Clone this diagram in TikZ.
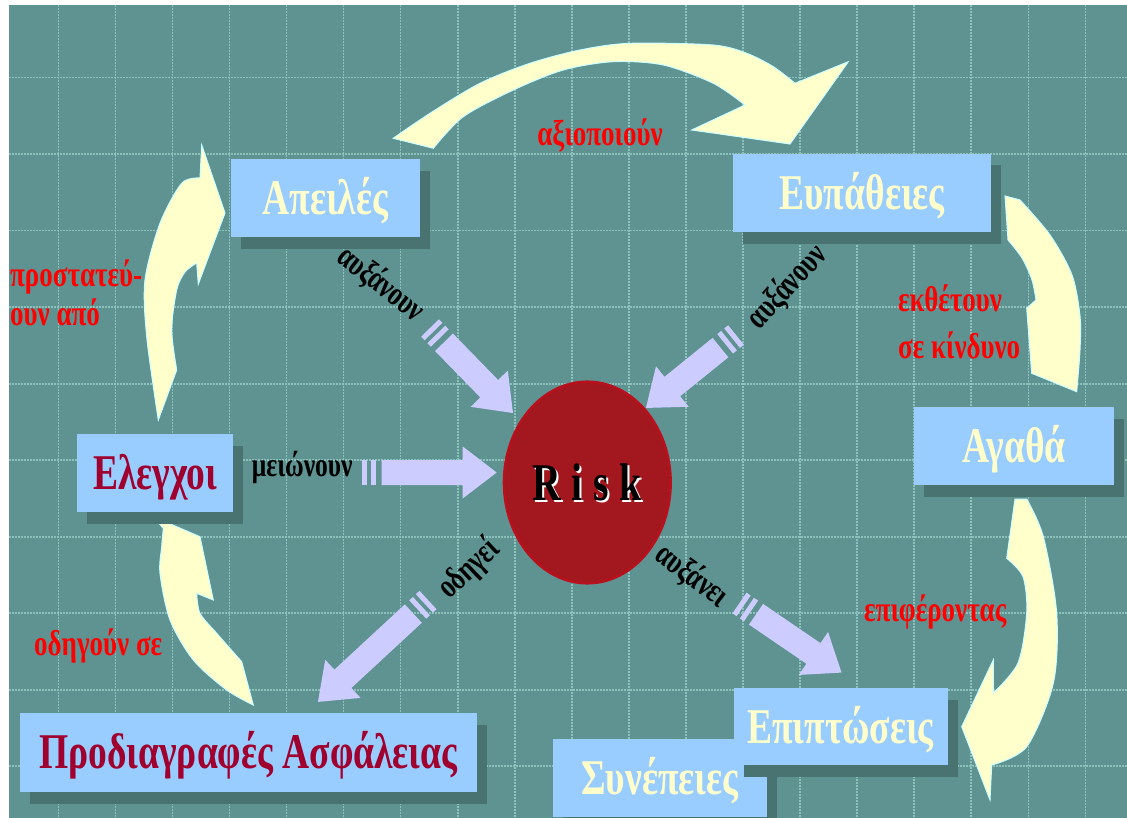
\documentclass[tikz,border=0pt]{standalone}
\usepackage{fontspec}
\setmainfont{Liberation Serif}[FakeStretch=0.75]
\usetikzlibrary{shapes.geometric,shadows}

\definecolor{bgteal}{HTML}{5F9392}
\definecolor{gridline}{HTML}{8DC1BC}
\definecolor{boxblue}{HTML}{99CCFF}
\definecolor{boxshadow}{HTML}{497370}
\definecolor{cream}{HTML}{FFFFCC}
\definecolor{yellowedge}{HTML}{CCFFFF}
\definecolor{lilac}{HTML}{CCCCFF}
\definecolor{wine}{HTML}{A0002D}
\definecolor{riskred}{HTML}{A3181E}
\definecolor{riskedge}{HTML}{B8101C}
\definecolor{labelred}{HTML}{FF0000}

\tikzset{
  pics/stripearrow/.style={code={
    \fill[lilac] (0,-12.5) rectangle (5,12.5);
    \fill[lilac] (9,-12.5) rectangle (14,12.5);
    \fill[lilac] (20,-12.5) -- (#1-34,-12.5) -- (#1-34,-26) -- (#1,0)
      -- (#1-34,26) -- (#1-34,12.5) -- (20,12.5) -- cycle;
  }}
}

\begin{document}
\begin{tikzpicture}[x=1pt,y=-1pt,
  box/.style={fill=boxblue, inner sep=0pt, text height=33pt, text depth=0pt,
    font=\fontsize{50}{60}\selectfont\bfseries, text=cream,
    drop shadow={shadow xshift=10pt, shadow yshift=-12pt, fill=boxshadow, opacity=1}},
  redlbl/.style={font=\fontsize{36}{40}\selectfont\bfseries, text=labelred, inner sep=0pt},
  blklbl/.style={font=\fontsize{34}{38}\selectfont\bfseries, text=black, inner sep=0pt},
  curvy/.style={fill=cream, draw=yellowedge, line width=1pt, line join=miter},
  gridstyle/.style={draw=gridline, line width=1.6pt, dash pattern=on 2pt off 1pt}
]
% page and backdrop
\fill[white] (0,0) rectangle (1127,818);
\fill[bgteal] (9,5) rectangle (1127,818);
\useasboundingbox (0,0) rectangle (1127,818);

% grid
\foreach \k in {0,...,18}
  \draw[gridstyle] ({58.3+57.06*\k},5) -- ({58.3+57.06*\k},818);
\foreach \k in {0,...,9}
  \draw[gridstyle] (9,{77.7+76.5*\k}) -- (1127,{77.7+76.5*\k});

% curved arrows of the cycle
% top: threats -> vulnerabilities
\filldraw[curvy] (393.3,138.3)
  -- plot[smooth] coordinates {(393.3,138.3) (430,113.3) (480,83.3) (530,63.3) (580,50) (630,43.3) (713,45) (746.7,53.3) (773.3,66.7) (795,83.3)}
  -- (848.3,61.7) -- (790,144) -- (691.7,130) -- (745,105)
  -- plot[smooth] coordinates {(745,105) (713.3,83.3) (663.3,65) (613.3,61.7) (563.3,70) (513.3,90) (463.3,116.7) (433.3,148.3)}
  -- cycle;
% right upper: vulnerabilities -> assets
\filldraw[curvy] (1005,196) -- (1008,240)
  -- plot[smooth] coordinates {(1008,240) (1022,258) (1032,280) (1036,300)}
  -- (1026.7,308.3) -- (1031.7,373.3) -- (1076.7,391.7)
  -- plot[smooth] coordinates {(1076.7,391.7) (1080,350) (1080,316) (1072,275) (1050,235) (1020,200)}
  -- cycle;
% right lower: assets -> impacts
\filldraw[curvy] (1015,499) -- (1006.7,558.3)
  -- plot[smooth] coordinates {(1006.7,558.3) (1023,576.7) (1026.7,613) (1018,663) (993.3,693)}
  -- (993.3,660) -- (961.7,726.7) -- (990,800) -- (991.7,765)
  -- plot[smooth] coordinates {(991.7,765) (1026.7,746.7) (1053.3,683.3) (1056.7,613.3) (1043.3,536.7) (1026.7,499)}
  -- cycle;
% left lower: specifications -> controls
\filldraw[curvy] (253.3,705) -- (241.7,661.7)
  -- plot[smooth] coordinates {(241.7,661.7) (216.7,633.3) (200,613.3) (196.7,593.3)}
  -- (213.3,600) -- (200,536.7) -- (153.3,516.7) -- (163.3,528.3)
  -- plot[smooth] coordinates {(163.3,528.3) (161.7,546.7) (160,573.3) (170,620) (193.3,660) (226.7,690) (253.3,705)}
  -- cycle;
% left upper: controls -> threats
\filldraw[curvy] (158.3,420) -- (176.7,370)
  -- plot[smooth] coordinates {(176.7,370) (171.7,330) (176.7,290) (185,272) (196.7,263)}
  -- (198.3,284) -- (225,213) -- (201.7,145) -- (200,178)
  -- plot[smooth] coordinates {(200,178) (181.7,183.3) (160,223.3) (145,280) (146.7,336.7) (158.3,420)}
  -- cycle;

% concept boxes
\node[box, minimum width=213.6pt, minimum height=77.7pt] (conseq) at (659.8,778.2) {Συνέπειες};
\node[box, minimum width=189.3pt, minimum height=77.4pt] (threats) at (325.3,198) {Απειλές};
\node[box, minimum width=257.4pt, minimum height=77.7pt,
  drop shadow={shadow xshift=10pt, shadow yshift=-11pt, fill=boxshadow, opacity=1}] (vuln) at (862,192.8) {Ευπάθειες};
\node[box, minimum width=200.6pt, minimum height=77.7pt] (assets) at (1014,446.2) {Αγαθά};
\node[box, minimum width=155.4pt, minimum height=77.4pt, text=wine] (controls) at (155,473) {Ελεγχοι};
\node[box, minimum width=456.7pt, minimum height=79pt, text=wine] (specs) at (248.3,752.2) {Προδιαγραφές Ασφάλειας};
\node[box, minimum width=214pt, minimum height=76.7pt] (impacts) at (840.5,726.7) {Επιπτώσεις};

% tails of the striped arrows around the risk
\coordinate (tailT) at (430,328);
\coordinate (tailV) at (736,335);
\coordinate (tailC) at (361.7,472.5);
\coordinate (tailS) at (428,600);
\coordinate (tailI) at (739.5,603);
\pic[rotate=-45.7] at (tailT) {stripearrow=118.8};
\pic[rotate=-141] at (tailV) {stripearrow=115.9};
\pic at (tailC) {stripearrow=135};
\pic[rotate=-137.2] at (tailS) {stripearrow=150};
\pic[rotate=-34.3] at (tailI) {stripearrow=123.5};

% risk
\node[ellipse, fill=riskred, draw=riskedge, line width=2.5pt,
  minimum width=166.7pt, minimum height=201.6pt] (risk) at (587.3,482.5) {};
\node[font=\fontsize{53}{60}\selectfont\bfseries\addfontfeatures{LetterSpace=20},
  text=white, inner sep=0pt, text height=35pt, text depth=0pt] (riskglow) at (589,485) {Risk};
\node[font=\fontsize{53}{60}\selectfont\bfseries\addfontfeatures{LetterSpace=20},
  text=black, inner sep=0pt, text height=35pt, text depth=0pt] (risktext) at (587,482.5) {Risk};

% red relation labels
\node[redlbl, anchor=base] (exploit) at (600,146) {αξιοποιούν};
\node[redlbl, anchor=base west] (protect1) at (10,286.7) {προστατεύ-};
\node[redlbl, anchor=base west] (protect2) at (10,325) {ουν από};
\node[redlbl, anchor=base west] (expose1) at (898,311.7) {εκθέτουν};
\node[redlbl, anchor=base west] (expose2) at (898,358) {σε κίνδυνο};
\node[redlbl, anchor=base west] (bring) at (864,621) {επιφέροντας};
\node[redlbl, anchor=base west] (lead) at (34,655) {οδηγούν σε};

% black labels on the striped arrows
\node[blklbl, anchor=base west] (reduce) at (251.7,476.7) {μειώνουν};
\node[blklbl, rotate=-38] (incT) at (381,284) {αυξάνουν};
\node[blklbl, rotate=47] (incV) at (787,287) {αυξάνουν};
\node[blklbl, rotate=43] (leads) at (469,569) {οδηγεί};
\node[blklbl, rotate=-37] (incI) at (692,576) {αυξάνει};
\end{tikzpicture}
\end{document}
